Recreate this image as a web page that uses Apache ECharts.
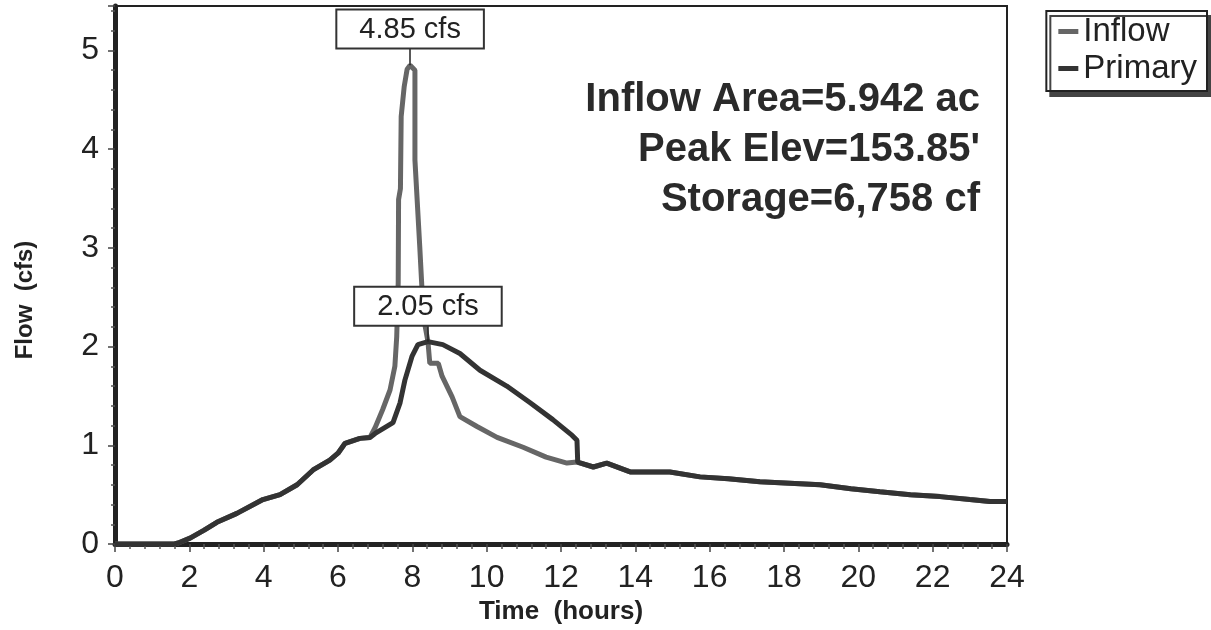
<!DOCTYPE html>
<html>
<head>
<meta charset="utf-8">
<script src="https://cdn.jsdelivr.net/npm/echarts@6/dist/echarts.min.js"></script>
<style>
  html, body { margin: 0; padding: 0; background: #fff; }
  #main { width: 1211px; height: 630px; }
</style>
</head>
<body>
<div id="main"></div>
<script>
// shared rising limb (hours, cfs)
const risingLimb = [
  [0, 0], [1.6, 0], [1.7, 0.01], [2.02, 0.06], [2.4, 0.14], [2.74, 0.22], [3.28, 0.31],
  [3.98, 0.45], [4.44, 0.5], [4.9, 0.6], [5.33, 0.75], [5.78, 0.85], [6.0, 0.92],
  [6.19, 1.02], [6.59, 1.07], [6.86, 1.08]
];
// inflow spike + falling limb
const inflowPeak = [
  [7.0, 1.18], [7.2, 1.36], [7.4, 1.56], [7.53, 1.8], [7.58, 2.1], [7.62, 2.65],
  [7.63, 3.49], [7.68, 3.6], [7.7, 4.33], [7.78, 4.63], [7.86, 4.81], [7.94, 4.85],
  [8.07, 4.8], [8.07, 3.89], [8.2, 3.01], [8.25, 2.65], [8.3, 2.3], [8.42, 2.05],
  [8.47, 1.83], [8.7, 1.83], [8.8, 1.7], [9.07, 1.49], [9.28, 1.29], [9.74, 1.19],
  [10.28, 1.08], [10.98, 0.98], [11.6, 0.88], [12.16, 0.82], [12.43, 0.83]
];
// primary outflow peak
const primaryPeak = [
  [7.0, 1.12], [7.48, 1.23], [7.67, 1.43], [7.8, 1.66], [7.99, 1.9], [8.15, 2.02],
  [8.42, 2.05], [8.82, 2.02], [9.28, 1.93], [9.82, 1.76], [10.54, 1.6], [11.17, 1.43],
  [11.78, 1.26], [12.3, 1.1], [12.43, 1.05], [12.45, 0.83]
];
// shared recession tail
const recession = [
  [12.87, 0.78], [13.23, 0.82], [13.86, 0.73], [14.93, 0.73], [15.74, 0.68],
  [16.5, 0.66], [17.35, 0.63], [18.97, 0.6], [19.8, 0.56], [20.58, 0.53],
  [21.4, 0.5], [22.2, 0.48], [23.0, 0.45], [23.54, 0.43], [24, 0.43]
];
const peaks = { inflow: [7.94, 4.85], primary: [8.42, 2.05] };
const infoLines = ['Inflow Area=5.942 ac', "Peak Elev=153.85'", 'Storage=6,758 cf'];

const inflowData = risingLimb.concat(inflowPeak, recession);
const primaryData = risingLimb.concat(primaryPeak, recession);

const chart = echarts.init(document.getElementById('main'));
const font = 'Liberation Sans, Arial, sans-serif';

function peakMark(p, top) {
  return {
    symbol: ['none', 'none'],
    silent: true,
    animation: false,
    lineStyle: { color: '#222', width: 1.5, type: 'solid' },
    label: {
      show: true,
      position: 'end',
      distance: 0,
      formatter: p[1].toFixed(2) + ' cfs',
      fontFamily: font,
      fontSize: 29,
      color: '#222',
      backgroundColor: '#fff',
      borderColor: '#333',
      borderWidth: 2,
      padding: [5, 22, 3, 22]
    },
    data: [[{ coord: p }, { coord: [p[0], top] }]]
  };
}

const option = {
  backgroundColor: '#fff',
  animation: false,
  grid: {
    left: 115, right: 204, top: 6, bottom: 86,
    containLabel: false, outerBoundsMode: 'none',
    show: true, borderColor: '#222', borderWidth: 2
  },
  legend: {
    right: 4, top: 11,
    orient: 'vertical',
    icon: 'rect',
    itemWidth: 20, itemHeight: 5,
    itemGap: 4,
    padding: [4, 10, 6, 12],
    backgroundColor: '#fff',
    borderColor: '#222',
    borderWidth: 2,
    shadowColor: '#444',
    shadowOffsetX: 4,
    shadowOffsetY: 5,
    shadowBlur: 0,
    textStyle: { fontFamily: font, fontSize: 33, color: '#222' },
    data: ['Inflow', 'Primary']
  },
  xAxis: {
    type: 'value', min: 0, max: 24, interval: 2,
    name: 'Time  (hours)', nameLocation: 'middle', nameGap: 52,
    nameTextStyle: { fontFamily: font, fontSize: 26, fontWeight: 'bold', color: '#222' },
    axisLine: { onZero: false, lineStyle: { color: '#222', width: 5 } },
    axisTick: { length: 8, lineStyle: { color: '#444', width: 1.5 } },
    minorTick: { show: true, splitNumber: 5, length: 5, lineStyle: { color: '#555', width: 1.5 } },
    splitLine: { show: false },
    axisLabel: { fontFamily: font, fontSize: 32, color: '#222', margin: 18 }
  },
  yAxis: {
    type: 'value', min: 0, max: 5.45, interval: 1,
    axisLine: { show: true, lineStyle: { color: '#222', width: 5 } },
    axisTick: { length: 7, lineStyle: { color: '#444', width: 1.5 } },
    minorTick: { show: true, splitNumber: 5, length: 4, lineStyle: { color: '#555', width: 1.5 } },
    splitLine: { show: false },
    axisLabel: { fontFamily: font, fontSize: 32, color: '#222', margin: 16, showMaxLabel: false }
  },
  graphic: [
    {
      type: 'text', x: 25, y: 300, rotation: Math.PI / 2,
      style: {
        text: 'Flow  (cfs)', fontFamily: font, fontSize: 24, fontWeight: 'bold',
        fill: '#222', align: 'center', verticalAlign: 'middle'
      }
    }
  ].concat(infoLines.map(function (t, i) {
    return {
      type: 'text', x: 980, y: 100 + i * 50,
      style: {
        text: t, fontFamily: font, fontSize: 40, fontWeight: 'bold', fill: '#2a2a2a',
        align: 'right', verticalAlign: 'middle'
      }
    };
  })),
  series: [
    {
      name: 'Inflow', type: 'line', data: inflowData,
      showSymbol: false, symbol: 'none',
      lineStyle: { color: '#666', width: 5 },
      itemStyle: { color: '#666' },
      z: 2,
      markLine: peakMark(peaks.inflow, 5.03)
    },
    {
      name: 'Primary', type: 'line', data: primaryData,
      showSymbol: false, symbol: 'none',
      lineStyle: { color: '#333', width: 5 },
      itemStyle: { color: '#333' },
      z: 3,
      markLine: peakMark(peaks.primary, 2.22)
    }
  ]
};

chart.setOption(option);
</script>
</body>
</html>
